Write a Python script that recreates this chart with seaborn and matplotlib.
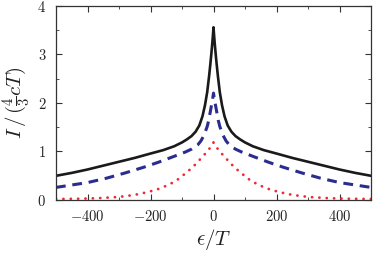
import numpy as np
import pandas as pd
import matplotlib
matplotlib.use("Agg")
import matplotlib.pyplot as plt
import seaborn as sns

# half-curve readings (symmetric about 0)
black_x = [0, 2, 4, 7, 10, 14, 20, 27, 35, 45, 57, 70, 85, 100, 125, 160, 200, 250, 300, 350, 400, 450, 500]
black_y = [3.56, 3.38, 3.22, 3.00, 2.80, 2.55, 2.22, 1.95, 1.72, 1.53, 1.40, 1.31, 1.24, 1.18, 1.10, 1.02, 0.95, 0.86, 0.78, 0.70, 0.62, 0.55, 0.49]

blue_x = [0, 3, 6, 10, 15, 20, 30, 40, 50, 70, 90, 130, 175, 220, 280, 340, 400, 450, 500]
blue_y = [2.20, 2.07, 1.96, 1.82, 1.64, 1.51, 1.33, 1.21, 1.13, 1.04, 0.98, 0.88, 0.77, 0.67, 0.55, 0.44, 0.35, 0.30, 0.25]

red_x = [0, 17, 36, 52, 71, 91, 112, 135, 158, 182, 209, 234, 262, 288, 314, 367, 420, 500]
red_y = [1.18, 1.01, 0.88, 0.76, 0.64, 0.53, 0.42, 0.33, 0.26, 0.20, 0.155, 0.115, 0.085, 0.063, 0.047, 0.027, 0.017, 0.01]

xticks = [-400, -200, 0, 200, 400]
yticks = [0, 1, 2, 3, 4]


def mirror(xs, ys):
    xs = np.array(xs, float)
    ys = np.array(ys, float)
    return np.concatenate([-xs[:0:-1], xs]), np.concatenate([ys[:0:-1], ys])


sns.set_style("ticks")
plt.rcParams["mathtext.fontset"] = "cm"
plt.rcParams["font.family"] = ["DejaVu Serif"]

fig = plt.figure(figsize=(3.73, 2.56), dpi=100)
ax = fig.add_axes([56 / 373, 1 - 199.5 / 256, 315 / 373, 193.5 / 256])

styles = [
    (black_x, black_y, dict(color="#1a1a1a", lw=1.9, ls="-")),
    (blue_x, blue_y, dict(color="#2b2d8e", lw=2.2, ls=(0, (3.2, 2.2)))),
    (red_x, red_y, dict(color="#ee2a33", lw=2.0, ls=(0, (0.05, 2.6)), dash_capstyle="round")),
]
for xs, ys, kw in styles:
    mx, my = mirror(xs, ys)
    df = pd.DataFrame({"x": mx, "y": my})
    line_kw = {k: v for k, v in kw.items() if k not in ("ls",)}
    sns.lineplot(data=df, x="x", y="y", ax=ax, estimator=None, sort=False,
                 linestyle=kw["ls"], **line_kw)

ax.set_xlim(-500, 500)
ax.set_ylim(0, 4)
ax.set_xticks(xticks)
ax.set_xticklabels([f"${t}$" if t >= 0 else f"$-{abs(t)}$" for t in xticks])
ax.set_yticks(yticks)
ax.set_yticklabels([f"${t}$" for t in yticks])
ax.set_xticks(np.arange(-500, 501, 100), minor=True)
ax.set_yticks(np.arange(0, 4.01, 0.5), minor=True)
ax.tick_params(which="both", direction="in", top=True, right=True, labelsize=10.5,
               colors="#333333", labelcolor="#222222")
ax.tick_params(which="major", length=4, width=0.8, pad=7)
ax.tick_params(which="minor", length=2, width=0.6)
for s in ax.spines.values():
    s.set_color("#333333")
    s.set_linewidth(0.9)

ax.set_xlabel(r"$\epsilon/T$", fontsize=15, color="#222222", labelpad=2)
ax.set_ylabel(r"$I\,/\,(\frac{4}{3}cT)$", fontsize=15, color="#222222", labelpad=3)

fig.savefig("out.png", dpi=100)
